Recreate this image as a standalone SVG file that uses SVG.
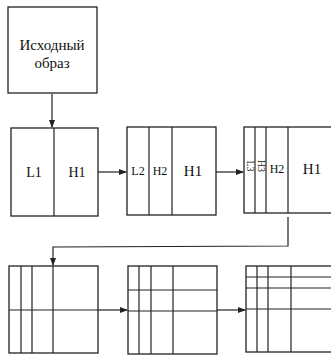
<svg xmlns="http://www.w3.org/2000/svg" width="331" height="356" viewBox="0 0 331 356" font-family="Liberation Serif, DejaVu Serif, serif">
<defs>
<marker id="ah" markerWidth="8" markerHeight="6" refX="7" refY="3" orient="auto" markerUnits="userSpaceOnUse">
<path d="M0,0 L8,3 L0,6 z" fill="#222"/>
</marker>
</defs>
<style>
.box{fill:#fff;stroke:#222;stroke-width:1.3}
.ln{stroke:#222;stroke-width:1.2;fill:none}
.cn{stroke:#222;stroke-width:1.2;fill:none;marker-end:url(#ah)}
.lbl{fill:#111;text-anchor:middle}
.t{font-size:15px}
.m{font-size:14px}
.s{font-size:12px}
.v{font-size:10px}
</style>
<rect width="331" height="356" fill="#fff"/>
<g id="src">
<rect class="box" x="8" y="7" width="89" height="86"/>
<text class="lbl t" x="52" y="50" font-family="Liberation Serif, serif">Исходный</text>
<text class="lbl t" x="52" y="68" font-family="Liberation Serif, serif">образ</text>
</g>
<g id="r1b1">
<rect class="box" x="11" y="128" width="87" height="88"/>
<line class="ln" x1="54" y1="128" x2="54" y2="216"/>
<text class="lbl m" x="34" y="177">L1</text>
<text class="lbl m" x="77" y="177">H1</text>
</g>
<g id="r1b2">
<rect class="box" x="127" y="127" width="89" height="88"/>
<line class="ln" x1="149" y1="127" x2="149" y2="215"/>
<line class="ln" x1="172" y1="127" x2="172" y2="215"/>
<text class="lbl s" x="138" y="175">L2</text>
<text class="lbl s" x="160" y="175">H2</text>
<text class="lbl t" x="193" y="176">H1</text>
</g>
<g id="r1b3">
<rect class="box" x="244" y="127" width="90" height="86"/>
<line class="ln" x1="255" y1="127" x2="255" y2="213"/>
<line class="ln" x1="266" y1="127" x2="266" y2="213"/>
<line class="ln" x1="288" y1="127" x2="288" y2="213"/>
<text class="lbl v" transform="translate(246.5,166) rotate(90)">L3</text>
<text class="lbl v" transform="translate(257.5,166) rotate(90)">H3</text>
<text class="lbl s" x="277" y="173">H2</text>
<text class="lbl t" x="312" y="174">H1</text>
</g>
<g id="r2b1">
<rect class="box" x="9" y="266" width="89" height="87"/>
<line class="ln" x1="21" y1="266" x2="21" y2="353"/>
<line class="ln" x1="32" y1="266" x2="32" y2="353"/>
<line class="ln" x1="53" y1="266" x2="53" y2="353"/>
<line class="ln" x1="9" y1="310" x2="98" y2="310"/>
</g>
<g id="r2b2">
<rect class="box" x="128" y="266" width="89" height="88"/>
<line class="ln" x1="139" y1="266" x2="139" y2="354"/>
<line class="ln" x1="151" y1="266" x2="151" y2="354"/>
<line class="ln" x1="173" y1="266" x2="173" y2="354"/>
<line class="ln" x1="128" y1="290" x2="217" y2="290"/>
<line class="ln" x1="128" y1="311" x2="217" y2="311"/>
</g>
<g id="r2b3">
<rect class="box" x="246" y="266" width="90" height="86"/>
<line class="ln" x1="257" y1="266" x2="257" y2="352"/>
<line class="ln" x1="268" y1="266" x2="268" y2="352"/>
<line class="ln" x1="291" y1="266" x2="291" y2="352"/>
<line class="ln" x1="246" y1="277" x2="336" y2="277"/>
<line class="ln" x1="246" y1="288" x2="336" y2="288"/>
<line class="ln" x1="246" y1="309" x2="336" y2="309"/>
</g>
<g id="connectors">
<line class="cn" x1="52" y1="94" x2="52" y2="127"/>
<line class="cn" x1="98" y1="172" x2="126" y2="172"/>
<line class="cn" x1="216" y1="172" x2="243" y2="172"/>
<polyline class="cn" points="288,217 288,246 53,247 53,265"/>
<line class="cn" x1="98" y1="310" x2="127" y2="310"/>
<line class="cn" x1="217" y1="310" x2="245" y2="310"/>
</g>
</svg>
